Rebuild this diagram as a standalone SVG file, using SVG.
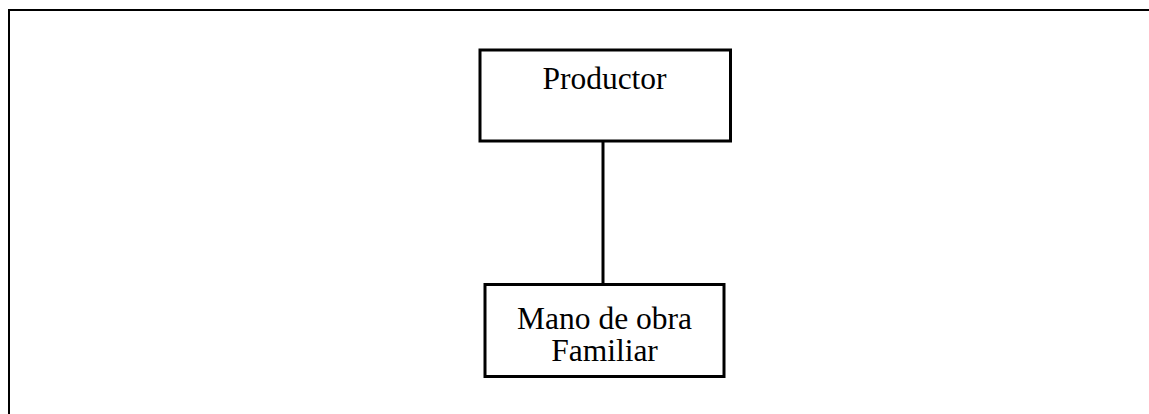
<svg xmlns="http://www.w3.org/2000/svg" width="1149" height="414" viewBox="0 0 1149 414">
<style>
.box{fill:#fff;stroke:#000;stroke-width:3}
.lbl{font-family:"Liberation Serif","Times New Roman",serif;font-size:31.5px;fill:#000;text-anchor:middle}
.ln{stroke:#000;stroke-width:3;fill:none}
</style>
<rect width="1149" height="414" fill="#fff"/>
<path d="M9,414 V10 H1149" fill="none" stroke="#000" stroke-width="2"/>
<g id="connectors">
<line class="ln" x1="603" y1="141" x2="603" y2="284"/>
</g>
<g id="productor">
<rect class="box" x="480" y="50" width="250.5" height="91"/>
<text class="lbl" x="604.5" y="88.5">Productor</text>
</g>
<g id="mano-obra">
<rect class="box" x="485" y="284.5" width="239" height="92"/>
<text class="lbl" x="604.5" y="328.5">Mano de obra</text>
<text class="lbl" x="604.5" y="360.5">Familiar</text>
</g>
</svg>
